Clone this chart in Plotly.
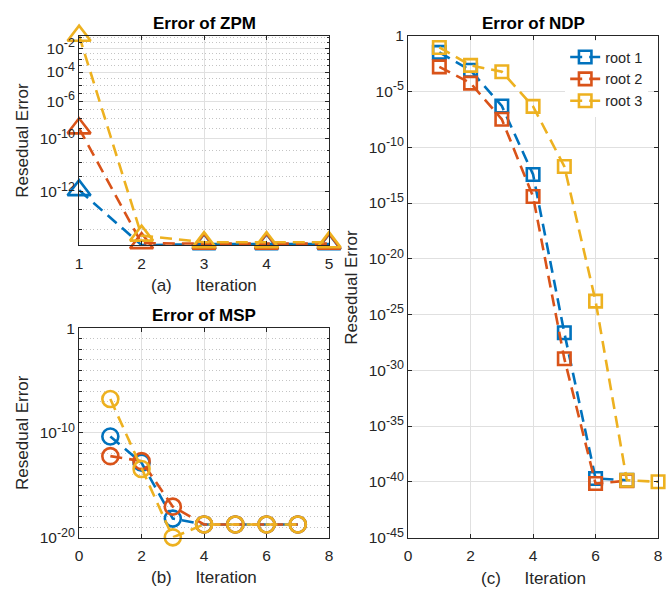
import plotly.graph_objects as go

W, H = 667, 600

# ---------------- data ----------------
# ZPM panel: stretched log scale, labelled with the residual exponents
iters_zpm = [1, 2, 3, 4, 5]
zpm_root1 = [4.05, 2.66, 2.68, 2.68, 2.68]
zpm_root2 = [6.5, 2.70, 2.69, 2.69, 2.69]
zpm_root3 = [13.2, 2.86, 2.72, 2.72, 2.72]
zpm_tickvals = [4, 6, 8, 10, 12]
zpm_exponents = ["-12", "-10", "-6", "-4", "-2"]
zpm_minorvals = [3, 3.5, 4.5, 5, 5.5, 6.5, 7, 7.5, 8.5, 9, 9.5,
                 10.5, 11, 11.5, 12.5, 13]

# MSP panel
iters_msp = [1, 2, 3, 4, 5, 6, 7]
msp_root1 = [4.5e-11, 1.4e-13, 6.5e-19, 1.8e-19, 1.8e-19, 1.8e-19, 1.8e-19]
msp_root2 = [6.0e-13, 2.0e-13, 9.0e-18, 1.8e-19, 1.8e-19, 1.8e-19, 1.8e-19]
msp_root3 = [1.7e-7, 3.5e-14, 1.05e-20, 1.8e-19, 1.8e-19, 1.8e-19, 1.8e-19]
msp_tickvals = [1e-20, 1e-10, 1]
msp_exponents = ["-20", "-10", None]
msp_minorvals = [1e-19, 1e-18, 1e-17, 1e-16, 1e-15, 1e-14, 1e-13, 1e-12, 1e-11,
                 1e-9, 1e-8, 1e-7, 1e-6, 1e-5, 1e-4, 1e-3, 1e-2, 1e-1]

# NDP panel
iters_ndp_12 = [1, 2, 3, 4, 5, 6, 7]
iters_ndp_3 = [1, 2, 3, 4, 5, 6, 7, 8]
ndp_root1 = [3.2e-2, 7.9e-4, 5.0e-7, 3.6e-13, 2.3e-27, 2.0e-40, 1.4e-40]
ndp_root2 = [1.6e-3, 5.6e-5, 3.2e-8, 3.8e-15, 1.1e-29, 7.0e-41, 1.25e-40]
ndp_root3 = [8.9e-2, 2.2e-3, 5.9e-4, 4.6e-7, 1.9e-12, 1.6e-24, 1.4e-40, 1.0e-40]
ndp_tickvals = [1e-45, 1e-40, 1e-35, 1e-30, 1e-25, 1e-20, 1e-15, 1e-10, 1e-5, 1]
ndp_exponents = ["-45", "-40", "-35", "-30", "-25", "-20", "-15", "-10", "-5", None]

root_names = ["root 1", "root 2", "root 3"]
colors = ["#0072BD", "#D95319", "#EDB120"]

# ---------------- styling ----------------
FONT = "Liberation Sans, Arial, Helvetica, sans-serif"
AXIS_COLOR = "#262626"
GRID = "#e0e0e0"
MINOR_GRID = "#c4c4c4"
DASH = "12px,7px"
LW = 2.6


def power_labels(exps):
    out = []
    for e in exps:
        if e is None:
            out.append("1")
        else:
            out.append("10<sup><span style='font-size:12.5px'>%s</span></sup>" % e)
    return out


def px_x(p):
    return p / W


def px_y(p):
    return 1 - p / H


# axes boxes in pixels
left_x = [px_x(76), px_x(329)]
right_x = [px_x(409), px_x(662)]
zpm_y = [px_y(243), px_y(27.5)]
msp_y = [px_y(544), px_y(328.5)]
ndp_y = [px_y(544), px_y(27.5)]

fig = go.Figure()


def add_series(xs, ys, i, symbol, size, xa, ya, legend=False):
    fig.add_trace(go.Scatter(
        x=xs, y=ys, mode="lines+markers", name=root_names[i],
        line=dict(color=colors[i], width=LW, dash=DASH),
        marker=dict(symbol=symbol, size=size, color=colors[i],
                    line=dict(width=2.6, color=colors[i])),
        xaxis=xa, yaxis=ya, showlegend=legend, cliponaxis=False,
    ))


for i, ys in enumerate([zpm_root1, zpm_root2, zpm_root3]):
    add_series(iters_zpm, ys, i, "triangle-up-open", 20, "x", "y")
for i, ys in enumerate([msp_root1, msp_root2, msp_root3]):
    add_series(iters_msp, ys, i, "circle-open", 16, "x2", "y2")
for i, (xs, ys) in enumerate([(iters_ndp_12, ndp_root1),
                              (iters_ndp_12, ndp_root2),
                              (iters_ndp_3, ndp_root3)]):
    add_series(xs, ys, i, "square-open", 12.5, "x3", "y3", legend=True)

common = dict(
    showline=True, linecolor=AXIS_COLOR, linewidth=1, mirror="allticks",
    ticks="inside", ticklen=4, tickwidth=1, tickcolor=AXIS_COLOR,
    showgrid=True, gridcolor=GRID, gridwidth=1, zeroline=False,
    tickfont=dict(family=FONT, size=15.5, color=AXIS_COLOR),
)
xcommon = dict(common, ticklabelstandoff=4)
minor_common = dict(ticks="inside", ticklen=2.5, tickcolor=AXIS_COLOR,
                    showgrid=True, gridcolor=MINOR_GRID, griddash="1px,2.5px",
                    gridwidth=1)

fig.update_layout(
    width=W, height=H,
    margin=dict(l=0, r=0, t=0, b=0),
    paper_bgcolor="white", plot_bgcolor="white",
    font=dict(family=FONT, color=AXIS_COLOR),
    xaxis=dict(domain=left_x, anchor="y", range=[1, 5],
               tickmode="array", tickvals=[1, 2, 3, 4, 5], **xcommon),
    yaxis=dict(domain=zpm_y, anchor="x", type="log",
               range=[0.4249, 1.1206],
               tickmode="array", tickvals=zpm_tickvals,
               ticktext=power_labels(zpm_exponents),
               minor=dict(tickmode="array", tickvals=zpm_minorvals,
                          **minor_common),
               **common),
    xaxis2=dict(domain=left_x, anchor="y2", range=[0, 8],
                tickmode="array", tickvals=[0, 2, 4, 6, 8], **xcommon),
    yaxis2=dict(domain=msp_y, anchor="x2", type="log", range=[-20, 0],
                tickmode="array", tickvals=msp_tickvals,
                ticktext=power_labels(msp_exponents),
                minor=dict(tickmode="array", tickvals=msp_minorvals,
                           **minor_common),
                **common),
    xaxis3=dict(domain=right_x, anchor="y3", range=[0, 8],
                tickmode="array", tickvals=[0, 2, 4, 6, 8], **xcommon),
    yaxis3=dict(domain=ndp_y, anchor="x3", type="log", range=[-45, 0],
                tickmode="array", tickvals=ndp_tickvals,
                ticktext=power_labels(ndp_exponents),
                **common),
    legend=dict(x=px_x(568), y=px_y(33), xanchor="left", yanchor="top",
                bgcolor="white", borderwidth=0,
                font=dict(family=FONT, size=14.5, color=AXIS_COLOR),
                tracegroupgap=0),
)

gap = "\u00a0" * 5
annotations = [
    # panel titles
    dict(text="<b>Error of ZPM</b>", x=px_x(202.5), y=px_y(15), size=17, color="black"),
    dict(text="<b>Error of MSP</b>", x=px_x(202.5), y=px_y(315), size=17, color="black"),
    dict(text="<b>Error of NDP</b>", x=px_x(535.5), y=px_y(15), size=17, color="black"),
    # x labels
    dict(text="(a)" + gap + "Iteration", x=px_x(202.5), y=px_y(285), size=17, color=AXIS_COLOR),
    dict(text="(b)" + gap + "Iteration", x=px_x(202.5), y=px_y(585), size=17, color=AXIS_COLOR),
    dict(text="(c)" + gap + "Iteration", x=px_x(535.5), y=px_y(586), size=17, color=AXIS_COLOR),
]
for a in annotations:
    fig.add_annotation(text=a["text"], x=a["x"], y=a["y"], xref="paper", yref="paper",
                       xanchor="center", yanchor="middle", showarrow=False,
                       font=dict(family=FONT, size=a["size"], color=a["color"]))

# y labels
for xp, yp in [(18.5, 135.3), (18.5, 436), (352, 286)]:
    fig.add_annotation(text="Resedual Error", x=px_x(xp), y=px_y(yp),
                       xref="paper", yref="paper", xanchor="center", yanchor="middle",
                       textangle=-90, showarrow=False,
                       font=dict(family=FONT, size=17, color=AXIS_COLOR))

fig.write_html("out.html")
